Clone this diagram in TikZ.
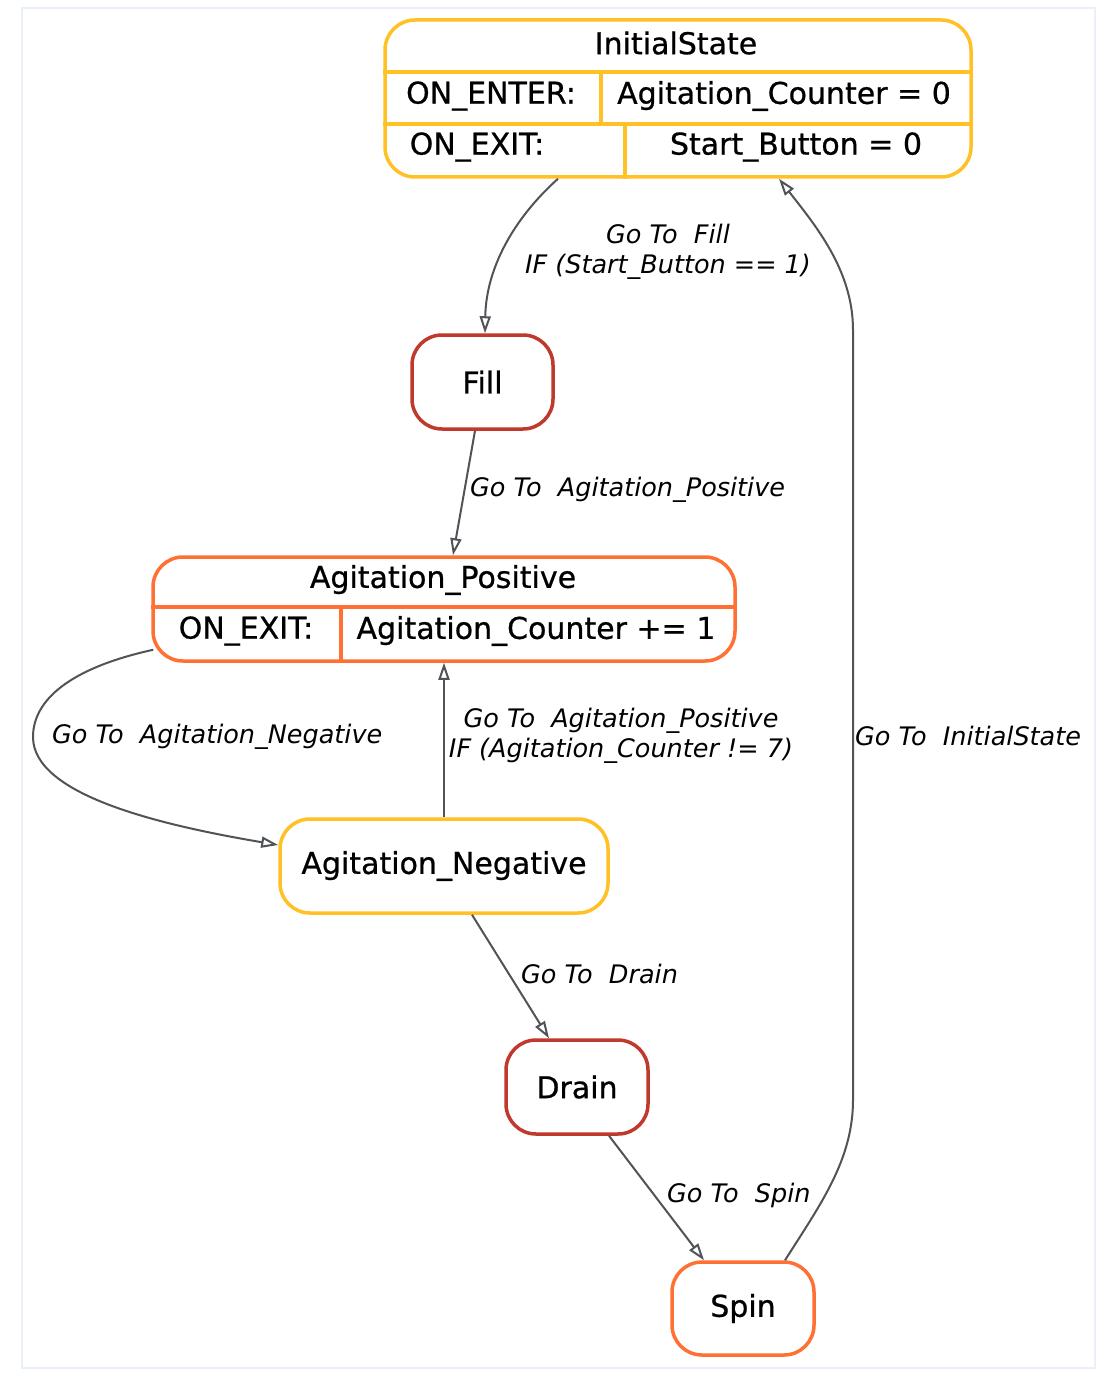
\documentclass[tikz,border=0pt]{standalone}
\usepackage{fontspec}
\setmainfont{DejaVu Sans}
\newfontfamily\statefont[FakeBold=0.7]{DejaVu Sans}
\usetikzlibrary{arrows.meta,calc}

\definecolor{amber}{RGB}{255,193,37}
\definecolor{brick}{RGB}{192,57,45}
\definecolor{tangerine}{RGB}{255,112,51}
\definecolor{wire}{RGB}{80,84,88}
\definecolor{framecol}{RGB}{234,240,247}

\tikzset{
  statebox/.style={draw, line width=3.5pt, rounded corners=30pt, fill=white,
    inner sep=0pt, font=\statefont\fontsize{30}{35}\selectfont},
  celltext/.style={inner sep=0pt, font=\statefont\fontsize{30}{35}\selectfont},
  edgetext/.style={inner sep=0pt, align=center,
    font=\fontsize{25.5}{30}\selectfont\itshape},
  trans/.style={draw=wire, line width=2pt,
    -{Triangle[open,length=17pt,width=11pt]}},
}

\begin{document}
\begin{tikzpicture}[x=1pt,y=-1pt]
  \useasboundingbox (0,0) rectangle (1104,1375);
  \fill[white] (0,0) rectangle (1104,1375);
  \draw[framecol, line width=2pt] (22,8) rectangle (1095,1368);

  % states
  \node[statebox, draw=amber, minimum width=586pt, minimum height=157pt] (IS) at (678,98.5) {};
  \node[statebox, draw=brick, minimum width=141pt, minimum height=94pt] (Fill) at (482.5,382) {Fill};
  \node[statebox, draw=tangerine, minimum width=582pt, minimum height=104pt] (AP) at (444,609) {};
  \node[statebox, draw=amber, minimum width=328pt, minimum height=94pt] (AN) at (444,866) {Agitation\_Negative};
  \node[statebox, draw=brick, minimum width=142pt, minimum height=94pt] (Drain) at (577,1087) {Drain};
  \node[statebox, draw=tangerine, minimum width=142pt, minimum height=93pt] (Spin) at (743,1308.5) {Spin};

  % compartments of InitialState
  \coordinate (isr1) at (0,72);
  \coordinate (isr2) at (0,124);
  \coordinate (isd1) at (601,0);
  \coordinate (isd2) at (625,0);
  \draw[amber, line width=3.5pt] (IS.west |- isr1) -- (IS.east |- isr1);
  \draw[amber, line width=3.5pt] (IS.west |- isr2) -- (IS.east |- isr2);
  \draw[amber, line width=3.5pt] (isd1 |- isr1) -- (isd1 |- isr2);
  \draw[amber, line width=3.5pt] (isd2 |- isr2) -- (isd2 |- IS.south);
  \node[celltext] (isT) at (676,43) {InitialState};
  \node[celltext] (isE1) at (491,96) {ON\_ENTER:};
  \node[celltext] (isE2) at (784,96) {Agitation\_Counter = 0};
  \node[celltext] (isX1) at (477,147) {ON\_EXIT:};
  \node[celltext] (isX2) at (796,147) {Start\_Button = 0};

  % compartments of Agitation_Positive
  \coordinate (apr1) at (0,607);
  \coordinate (apd1) at (341,0);
  \draw[tangerine, line width=3.5pt] (AP.west |- apr1) -- (AP.east |- apr1);
  \draw[tangerine, line width=3.5pt] (apd1 |- apr1) -- (apd1 |- AP.south);
  \node[celltext] (apT) at (443,580) {Agitation\_Positive};
  \node[celltext] (apX1) at (246,631) {ON\_EXIT:};
  \node[celltext] (apX2) at (536,631) {Agitation\_Counter += 1};

  % transitions
  \draw[trans] ([xshift=-120pt]IS.south) .. controls (512,220) and (486,270) .. ([xshift=2.5pt]Fill.north);
  \draw[trans] ([xshift=-7.5pt]Fill.south) -- ([xshift=9pt]AP.north);
  \draw[trans] ([xshift=2pt,yshift=13pt]AP.south west) .. controls (70,668) and (33,700) .. (33,737)
       .. controls (33,795) and (160,825) .. ([yshift=21pt]AN.west);
  \draw[trans] (AN.north) -- (AP.south);
  \draw[trans] ([xshift=28pt]AN.south) -- ([xshift=-28pt]Drain.north);
  \draw[trans] ([xshift=32pt]Drain.south) -- ([xshift=-39pt]Spin.north);
  \draw[trans] ([xshift=42pt]Spin.north) .. controls (820,1205) and (853,1160) .. (853,1100)
       -- (853,330) .. controls (853,270) and (815,225) .. ([xshift=101pt]IS.south);

  % transition labels
  \node[edgetext] (l1) at (668,252) {Go To\ \ Fill\\IF (Start\_Button == 1)};
  \node[edgetext, anchor=west] (l2) at (470,490) {Go To\ \ Agitation\_Positive};
  \node[edgetext, anchor=west] (l3) at (52,737) {Go To\ \ Agitation\_Negative};
  \node[edgetext] (l4) at (621,736) {Go To\ \ Agitation\_Positive\\IF (Agitation\_Counter != 7)};
  \node[edgetext, anchor=west] (l5) at (521,974) {Go To\ \ Drain};
  \node[edgetext, anchor=west] (l6) at (667,1195) {Go To\ \ Spin};
  \node[edgetext, anchor=west] (l7) at (855,736) {Go To\ \ InitialState};
\end{tikzpicture}
\end{document}
